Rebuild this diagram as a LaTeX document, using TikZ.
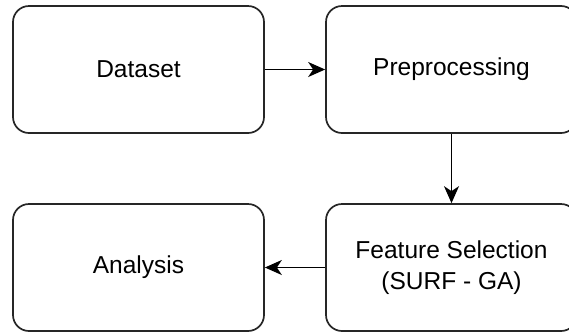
\documentclass[tikz,border=0pt]{standalone}
\usepackage{fontspec}
\setmainfont{Liberation Sans}
\usetikzlibrary{arrows.meta}
\begin{document}
\begin{tikzpicture}[x=1pt,y=-1pt,
  stagebox/.style={draw=black!85, line width=1.7pt, rounded corners=16pt,
    minimum width=251pt, minimum height=127pt, inner sep=0pt,
    align=center, font=\fontsize{24.5}{31}\selectfont},
  flow/.style={draw=black, line width=1.5pt,
    -{Stealth[length=17pt, width=15pt, inset=5pt]}}]
  \useasboundingbox (0,0) rectangle (569,333);
  \node[stagebox] (data) at (138.5,69.5) {Dataset};
  \node[stagebox] (prep) at (451.5,69.5) {Preprocessing};
  \node[stagebox] (feat) at (451.5,267.5) {Feature Selection\\(SURF - GA)};
  \node[stagebox] (anal) at (138.5,267.5) {Analysis};
  \draw[flow] (data.east) -- (prep.west);
  \draw[flow] (prep.south) -- (feat.north);
  \draw[flow] (feat.west) -- (anal.east);
\end{tikzpicture}
\end{document}
